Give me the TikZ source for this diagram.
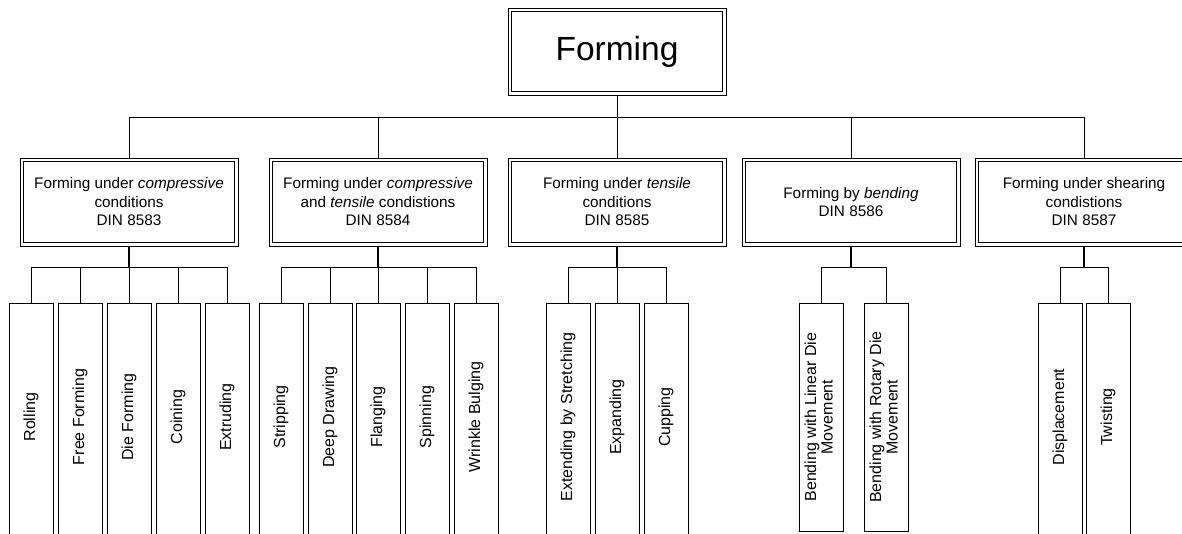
\documentclass[tikz,border=0pt]{standalone}
\usepackage{fontspec}
\setmainfont{Liberation Sans}
\begin{document}
\begin{tikzpicture}[x=1pt,y=-1pt,
  conn/.style={line width=0.8pt},
  stem/.style={line width=1.6pt},
  dbl/.style={draw, line width=0.8pt, outer sep=0.4pt, inner sep=0pt, align=center, minimum width=218pt},
  topbox/.style={dbl, minimum height=87pt, font=\fontsize{33.5}{38}\selectfont},
  cat/.style={dbl, minimum height=88pt, font=\fontsize{15.3}{18.5}\selectfont},
  innerframe/.style={line width=0.8pt},
  leafnode/.style={minimum width=44pt, minimum height=228pt, inner sep=0pt, outer sep=0pt, font=\fontsize{16}{16.5}\selectfont},
  leafbox/.style={leafnode, draw, line width=1pt},
  leafline/.style={line width=1pt},
]
\useasboundingbox (0,0) rectangle (1182,533);

% root
\node[topbox] (top) at (617,51.5) {Forming};

% categories
\node[cat] (c1) at (129,202) {Forming under \textit{compressive}\\conditions\\DIN 8583};
\node[cat] (c2) at (378,202) {Forming under \textit{compressive}\\and \textit{tensile} condistions\\DIN 8584};
\node[cat] (c3) at (617,202) {Forming under \textit{tensile}\\conditions\\DIN 8585};
\node[cat] (c4) at (851,202) {Forming by \textit{bending}\\DIN 8586};
\node[cat] (c5) at (1084,202) {Forming under shearing\\condistions\\DIN 8587};

% inner frames of the double borders
\foreach \b in {top,c1,c2,c3,c4,c5}
  \draw[innerframe] ([xshift=4pt,yshift=-4pt]\b.north west) rectangle ([xshift=-4pt,yshift=4pt]\b.south east);

\foreach \c in {c1,c2,c3,c4,c5}
  \draw[conn] (top.south) -- ++(0,22) -| (\c.north);

% leaves
\node[leafnode] (l11) at (31,417)  {\rotatebox{90}{Rolling}};
\node[leafnode] (l12) at (80,417)  {\rotatebox{90}{Free Forming}};
\node[leafnode] (l13) at (129,417) {\rotatebox{90}{Die Forming}};
\node[leafnode] (l14) at (178,417) {\rotatebox{90}{Coining}};
\node[leafnode] (l15) at (227,417) {\rotatebox{90}{Extruding}};

\node[leafnode] (l21) at (281,417) {\rotatebox{90}{Stripping}};
\node[leafnode] (l22) at (330,417) {\rotatebox{90}{Deep Drawing}};
\node[leafnode] (l23) at (378,417) {\rotatebox{90}{Flanging}};
\node[leafnode] (l24) at (427,417) {\rotatebox{90}{Spinning}};
\node[leafnode] (l25) at (476,417) {\rotatebox{90}{Wrinkle Bulging}};

\node[leafnode] (l31) at (568,417) {\rotatebox{90}{Extending by Stretching}};
\node[leafnode] (l32) at (617,417) {\rotatebox{90}{Expanding}};
\node[leafnode] (l33) at (666,417) {\rotatebox{90}{Cupping}};

\node[leafbox] (l41) at (821,417) {\rotatebox{90}{\begin{tabular}{@{}c@{}}Bending with Linear Die\\Movement\end{tabular}}};
\node[leafbox] (l42) at (886,417) {\rotatebox{90}{\begin{tabular}{@{}c@{}}Bending with Rotary Die\\Movement\end{tabular}}};

\node[leafnode] (l51) at (1060,417) {\rotatebox{90}{Displacement}};
\node[leafnode] (l52) at (1108,417) {\rotatebox{90}{Twisting}};

% open-bottom leaf frames
\foreach \l in {l11,l12,l13,l14,l15,l21,l22,l23,l24,l25,l31,l32,l33,l51,l52}
  \draw[leafline] ([yshift=-40pt]\l.south west) -- (\l.north west) -- (\l.north east) -- ([yshift=-40pt]\l.south east);

% sub-trees
\foreach \c/\ls in {c1/{l11,l12,l13,l14,l15}, c2/{l21,l22,l23,l24,l25}, c3/{l31,l32,l33}, c4/{l41,l42}, c5/{l51,l52}}{
  \draw[stem] (\c.south) -- ++(0,21);
  \foreach \l in \ls
    \draw[conn] (\c.south) ++(0,21) -| (\l.north);
}
\end{tikzpicture}
\end{document}
